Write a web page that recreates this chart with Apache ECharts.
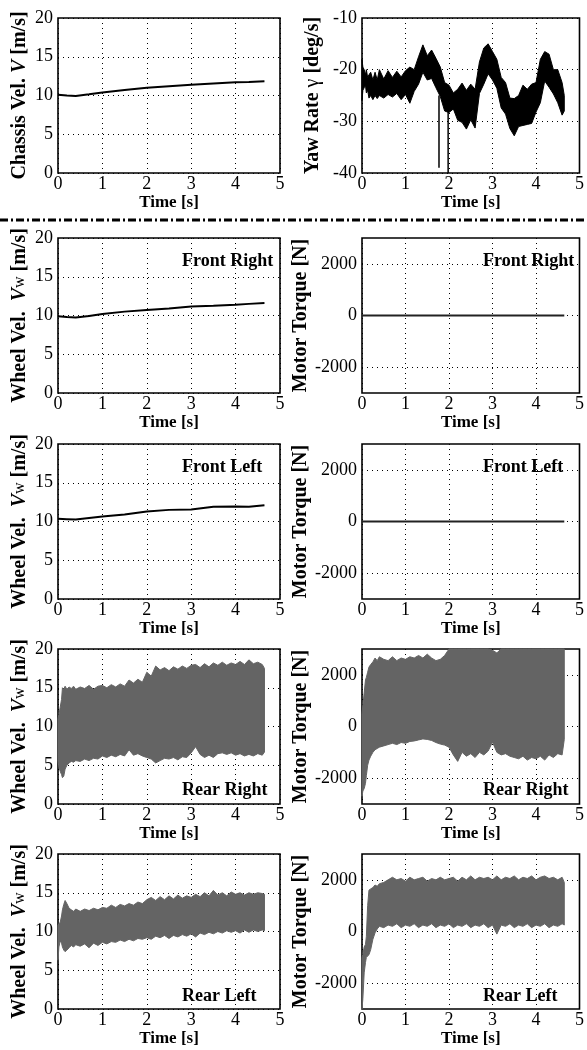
<!DOCTYPE html>
<html><head><meta charset="utf-8">
<script src="https://cdn.jsdelivr.net/npm/echarts@6/dist/echarts.min.js"></script>
<style>html,body{margin:0;padding:0;background:#fff}#c{width:587px;height:1050px}</style>
</head><body><div id="c"></div>
<script>
// ---------- data ----------
const xTicks = [0, 1, 2, 3, 4, 5];
const velTicks = [0, 5, 10, 15, 20];
const yawTicks = [-40, -30, -20, -10];
const torqueTicks = [-2000, 0, 2000];

// smooth signals
const smoothTime = [0, 0.2, 0.4, 0.7, 1.0, 1.5, 2.0, 2.5, 3.0, 3.5, 4.0, 4.3, 4.65];
const chassisVel = [10.1, 10.0, 9.95, 10.15, 10.4, 10.7, 11.0, 11.2, 11.4, 11.55, 11.7, 11.75, 11.85];
const frontRightVel = [9.9, 9.8, 9.75, 9.95, 10.2, 10.5, 10.7, 10.9, 11.15, 11.25, 11.4, 11.5, 11.6];
const frontLeftVel = [10.35, 10.3, 10.25, 10.45, 10.65, 10.9, 11.3, 11.5, 11.55, 11.9, 11.95, 11.9, 12.1];
const frontTorqueTime = [0, 4.65];
const frontRightTorque = [0, 0];
const frontLeftTorque = [0, 0];

// noisy signals: upper / lower envelopes
const timeGrid = [0,0.02,0.05,0.08,0.1,0.13,0.16,0.2,0.25,0.3,0.35,0.4,
  0.5,0.6,0.7,0.8,0.9,1.0,1.1,1.2,1.3,1.4,
  1.5,1.6,1.7,1.8,1.9,2.0,2.1,2.2,2.3,2.4,
  2.5,2.6,2.7,2.8,2.9,3.0,3.1,3.2,3.3,3.4,
  3.5,3.6,3.7,3.8,3.9,4.0,4.1,4.2,4.3,4.4,
  4.5,4.6,4.65];

const yawHi = [-18,-19.5,-20,-21,-20,-21.5,-21,-20.5,-22,-20.5,-22,-20,
  -21.8,-20.2,-21.5,-20.3,-21.4,-20.2,-19.5,-20,-17.5,-15.2,
  -17.3,-16.2,-17.8,-19.5,-22.5,-23,-24.5,-23.8,-22.6,-24,
  -22.8,-23.8,-18.5,-15.8,-15,-16.5,-18,-21.5,-22.5,-25.5,
  -25.6,-25,-23,-23.8,-22.8,-22.5,-18,-16.5,-17,-20,
  -20,-22.5,-25];
const yawLo = [-26,-24,-23.5,-23,-24.5,-24,-25.5,-25,-25.8,-25,-25.6,-25,
  -25.5,-24.8,-25.3,-24.6,-25.8,-24.8,-26.5,-24.2,-22.8,-20.5,
  -22,-21.7,-23.5,-25.2,-28,-28.3,-27.6,-29.8,-30.2,-31.5,
  -29.7,-31.3,-24.6,-22.8,-20.8,-22,-23.6,-27.4,-28.6,-31.4,
  -32.8,-31,-30.8,-30.6,-30.4,-28.2,-26.4,-22.2,-23.4,-24.7,
  -26.4,-28.8,-28];
const yawSpikeTime = [1.77, 1.98];
const yawSpikeFrom = [-25, -28];
const yawSpikeTo = [-39, -40];

const rrVelHi = [11,11.5,12.5,13.5,15,14.8,15.2,14.8,15.1,14.9,15.2,14.8,
  15.1,14.9,15.3,14.8,15.2,15.3,15.0,15.4,15.1,15.5,
  15.2,16.0,15.6,16.1,15.7,17.0,16.5,17.8,17.3,17.6,
  17.2,17.7,17.4,17.8,17.5,17.9,18.0,17.6,18.1,17.7,
  18.2,17.9,18.3,17.9,18.2,18.0,18.4,18.0,18.6,18.1,
  18.3,18.0,17.5];
const rrVelLo = [5.5,4.8,4.2,3.8,3.4,3.6,4.5,5.0,5.3,5.5,5.4,5.6,
  5.5,5.8,5.6,5.9,5.8,6.2,6.0,6.3,6.1,6.4,
  6.2,7.0,6.3,6.5,6.2,6.0,5.8,5.3,5.6,5.9,
  5.8,6.0,5.7,6.1,6.0,6.6,7.4,6.4,6.0,6.3,
  6.0,6.5,6.6,6.4,6.6,6.3,6.5,6.2,6.4,6.2,
  6.5,6.3,6.7];

const rrTorqueHi = [500,800,1300,1800,1900,2100,2300,2400,2500,2650,2550,2700,
  2600,2550,2700,2550,2650,2600,2700,2650,2750,2650,
  2800,2650,2550,2600,2750,3000,3000,3000,3000,3000,
  3000,3000,3000,3000,3000,2950,2850,3000,3000,3000,
  3000,3000,3000,3000,3000,3000,3000,3000,3000,3000,
  3000,3000,3000];
const rrTorqueLo = [-2700,-2500,-2400,-2200,-1900,-1500,-1300,-1150,-1000,-900,-850,-800,
  -750,-700,-650,-700,-620,-650,-580,-560,-520,-480,
  -500,-540,-620,-680,-720,-800,-1100,-1350,-1000,-1150,
  -1050,-1200,-1000,-1100,-950,-600,-1000,-1100,-1050,-1150,
  -1200,-1250,-1150,-1300,-1200,-1250,-1150,-1300,-1100,-1200,
  -1050,-1100,-500];

const rlVelHi = [10.8,11,11.2,12,12.8,13.5,14,13.6,13,12.8,12.6,12.9,
  12.6,12.9,12.7,13.0,12.8,13.1,13.0,13.4,13.1,13.5,
  13.3,13.6,13.4,13.8,13.6,14.1,14.4,14.0,14.5,14.1,
  14.6,14.2,14.7,14.3,14.6,14.4,14.8,14.5,15.0,14.6,
  15.3,14.7,15.0,14.6,15.1,14.8,15.0,14.7,15.0,14.8,
  15.0,14.9,14.8];
const rlVelLo = [6.3,8,8.8,8.5,8,7.6,7.4,7.6,7.9,8.2,8.0,8.3,
  8.1,8.4,7.9,8.5,8.2,8.6,8.4,8.7,8.6,8.9,
  8.7,9.0,8.8,9.1,9.0,9.2,9.0,9.4,9.2,9.5,
  9.1,9.5,9.3,9.6,9.4,9.7,9.3,9.8,9.6,9.9,
  9.7,10.0,9.8,10.1,9.9,10.1,9.8,10.2,9.9,10.2,
  10.0,10.2,10.1];

const rlTorqueHi = [-1000,-900,-600,-500,-200,1000,1600,1650,1700,1800,1750,1850,
  1900,2000,2100,2000,2050,1950,2100,2000,2050,2100,
  1950,2050,2000,2100,2000,2050,2100,1950,2100,2000,
  2150,2000,2100,2050,2100,2000,2150,2000,2100,2050,
  2150,2000,2100,2050,2150,2000,2100,2150,2050,2100,
  2000,2100,1900];
const rlTorqueLo = [-3000,-2600,-1600,-1200,-1000,-950,-900,-700,-300,-50,100,200,
  150,250,200,300,150,250,200,300,150,250,
  200,300,150,250,200,300,150,250,200,300,
  150,250,200,300,150,250,-100,250,200,300,
  150,250,200,300,150,250,200,300,150,250,
  200,300,250];

const wheelLabels = ['Front Right', 'Front Left', 'Rear Right', 'Rear Left'];

// ---------- chart ----------
const FONT = 'Liberation Serif';
const GREY = '#646464';
const RICH = {
  b: {fontFamily: FONT, fontWeight: 'bold', fontSize: 20, color: '#000'},
  i: {fontFamily: FONT, fontWeight: 'bold', fontStyle: 'italic', fontSize: 20, color: '#000'},
  s: {fontFamily: FONT, fontSize: 16, color: '#000'},
  g: {fontFamily: FONT, fontSize: 20, color: '#000'}
};
const colLeft = [58, 362], colWidth = [222, 221];
const rowTop = [18, 238, 444, 649, 854], rowH = 155;

const grids = [], xAxes = [], yAxes = [], series = [], graphics = [];

function panel(idx, row, col, y) {
  grids.push({left: colLeft[col], top: rowTop[row], width: colWidth[col], height: rowH,
    show: true, borderColor: '#000', borderWidth: 1.6, backgroundColor: 'transparent'});
  xAxes.push({gridIndex: idx, type: 'value', min: 0, max: 5, interval: 1,
    axisLine: {show: false}, axisTick: {show: false},
    axisLabel: {fontFamily: FONT, fontSize: 18, color: '#000', margin: 2, customValues: xTicks},
    splitLine: {show: true, lineStyle: {color: '#000', width: 1, type: [1, 4]}},
    name: 'Time [s]', nameLocation: 'middle', nameGap: 19,
    nameTextStyle: {fontFamily: FONT, fontSize: 17, fontWeight: 'bold', color: '#000'}});
  yAxes.push({gridIndex: idx, type: 'value', min: y.min, max: y.max,
    axisLine: {show: false}, axisTick: {show: false, customValues: y.ticks},
    axisLabel: {fontFamily: FONT, fontSize: 18, color: '#000', margin: 5, customValues: y.ticks,
      formatter: v => String(v)},
    splitLine: {show: true, lineStyle: {color: '#000', width: 1, type: [1, 4]}},
    name: y.name, nameLocation: 'middle', nameRotate: 90, nameGap: y.gap,
    nameTextStyle: {rich: RICH}});
}
function line(idx, T, V, color, w) {
  series.push({type: 'line', xAxisIndex: idx, yAxisIndex: idx, symbol: 'none', silent: true,
    lineStyle: {color: color, width: w}, data: T.map((t, k) => [t, V[k]])});
}
function band(idx, T, lo, hi, color) {
  series.push({type: 'custom', xAxisIndex: idx, yAxisIndex: idx, silent: true,
    data: [[T[0], lo[0]]],
    renderItem: function (params, api) {
      const pts = [];
      for (let k = 0; k < T.length; k++) pts.push(api.coord([T[k], hi[k]]));
      for (let k = T.length - 1; k >= 0; k--) pts.push(api.coord([T[k], lo[k]]));
      return {type: 'polygon', shape: {points: pts},
        style: {fill: color, stroke: color, lineWidth: 1}};
    }});
}

const velAxis = (name) => ({min: 0, max: 20, ticks: velTicks, name: name, gap: 28});
const torqueAxis = {min: -3000, max: 3000, ticks: torqueTicks, name: '{b|Motor Torque [N]}', gap: 49};
const wheelName = '{b|Wheel Vel.  }{i|V}{s|w}{b| [m/s]}';

panel(0, 0, 0, velAxis('{b|Chassis Vel. }{i|V}{b| [m/s]}'));
line(0, smoothTime, chassisVel, '#000', 2);

panel(1, 0, 1, {min: -40, max: -10, ticks: yawTicks, name: '{b|Yaw Rate }{g|γ}{b| [deg/s]}', gap: 39});
band(1, timeGrid, yawLo, yawHi, '#000');
yawSpikeTime.forEach((t, k) => line(1, [t, t], [yawSpikeFrom[k], yawSpikeTo[k]], '#000', 1.5));

panel(2, 1, 0, velAxis(wheelName));
line(2, smoothTime, frontRightVel, '#000', 2);
panel(3, 1, 1, torqueAxis);
line(3, frontTorqueTime, frontRightTorque, '#222', 2);

panel(4, 2, 0, velAxis(wheelName));
line(4, smoothTime, frontLeftVel, '#000', 2);
panel(5, 2, 1, torqueAxis);
line(5, frontTorqueTime, frontLeftTorque, '#222', 2);

panel(6, 3, 0, velAxis(wheelName));
band(6, timeGrid, rrVelLo, rrVelHi, GREY);
panel(7, 3, 1, torqueAxis);
band(7, timeGrid, rrTorqueLo, rrTorqueHi, GREY);

panel(8, 4, 0, velAxis(wheelName));
band(8, timeGrid, rlVelLo, rlVelHi, GREY);
panel(9, 4, 1, torqueAxis);
band(9, timeGrid, rlTorqueLo, rlTorqueHi, GREY);

// panel labels
const labelPos = [[261], [467], [790], [996]];
wheelLabels.forEach((txt, r) => {
  [182, 483].forEach(x => {
    graphics.push({type: 'text', x: x, y: labelPos[r][0], z: 100,
      style: {text: txt, font: 'bold 18px "Liberation Serif"', fill: '#000', align: 'left', verticalAlign: 'middle'}});
  });
});
// dash-dot separator
graphics.push({type: 'line', shape: {x1: 0, y1: 220, x2: 587, y2: 220},
  style: {stroke: '#000', lineWidth: 3, lineDash: [8, 3, 2, 3]}});

const chart = echarts.init(document.getElementById('c'), null, {renderer: 'canvas'});
chart.setOption({animation: false, backgroundColor: '#fff',
  grid: grids, xAxis: xAxes, yAxis: yAxes, series: series, graphic: graphics});
</script></body></html>
